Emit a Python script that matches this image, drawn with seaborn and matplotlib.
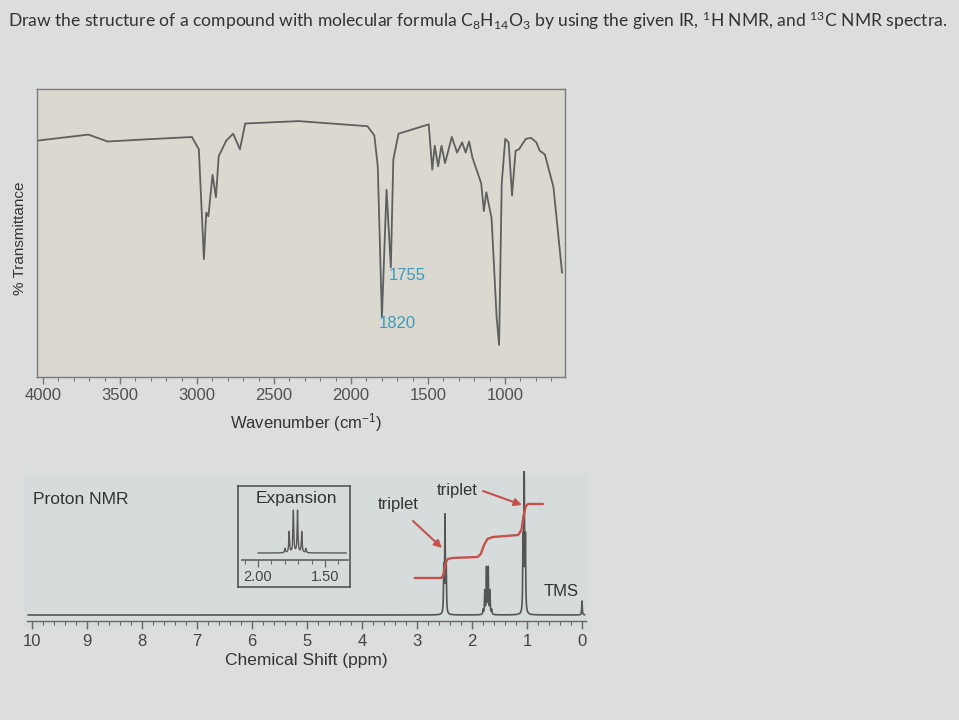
import numpy as np
import matplotlib
matplotlib.use("Agg")
import matplotlib.pyplot as plt
import seaborn as sns
from matplotlib.ticker import FixedLocator
from matplotlib.patches import Rectangle

# ---------------- data ----------------
title_text = ("Draw the structure of a compound with molecular formula "
              r"C$\mathregular{_8}$H$\mathregular{_{14}}$O$\mathregular{_3}$ by using the given IR, "
              r"$\mathregular{^1}$H NMR, and $\mathregular{^{13}}$C NMR spectra.")

# IR spectrum (wavenumber cm-1, % transmittance)
ir_wavenumber = [4035, 3705, 3581, 3300, 3033, 2988, 2955, 2940, 2926, 2899, 2877, 2859,
                 2810, 2765, 2721, 2687, 2340, 1893, 1848, 1826, 1799, 1769, 1741, 1725,
                 1691, 1495, 1472, 1456, 1434, 1412, 1389, 1345, 1311, 1278, 1255, 1233,
                 1211, 1154, 1137, 1121, 1087, 1054, 1038, 1021, 998, 976, 954, 931, 909,
                 864, 830, 796, 774, 741, 685, 629]
ir_transmittance = [82.3, 84.3, 82.0, 82.8, 83.5, 79.4, 42.8, 58.3, 57.1, 70.9, 63.4, 77.1,
                    82.3, 84.6, 79.4, 88.0, 88.8, 87.1, 84.0, 73.7, 23.4, 65.9, 40.0, 76.0,
                    84.6, 87.7, 72.6, 80.6, 73.7, 80.6, 74.8, 83.5, 78.3, 81.7, 78.3, 82.0,
                    76.6, 68.0, 58.8, 65.1, 56.5, 23.4, 14.2, 68.0, 82.9, 81.7, 64.0, 78.9, 79.4,
                    82.9, 83.2, 81.7, 78.9, 77.7, 66.8, 38.2]
ir_tick_values = [4000, 3500, 3000, 2500, 2000, 1500, 1000]
ir_peak_labels = ["1755", "1820"]

# 1H NMR lines (ppm, height in drawing units)
triplet_a_ppm = [2.468, 2.490, 2.512]
triplet_a_height = [45, 95, 45]
sextet_center = 1.72
sextet_offsets = [-0.078, -0.047, -0.0155, 0.0155, 0.047, 0.078]
sextet_rel = [1, 5, 10, 10, 5, 1]
sextet_height_main = 46
sextet_height_inset = 42
triplet_c_ppm = [1.028, 1.050, 1.072]
triplet_c_height = [72, 138, 72]
tms_ppm = [0.0]
tms_height = [14]
nmr_tick_values = list(range(0, 11))
inset_tick_values = [2.00, 1.50]

# integration curve (ppm, level)
integ_ppm = [3.04, 2.56, 2.52, 2.48, 2.44, 2.36, 1.90, 1.84, 1.78, 1.72, 1.62, 1.16,
             1.10, 1.06, 1.02, 0.98, 0.71]
integ_level = [37, 37, 40, 52, 56, 57, 58, 61, 70, 76, 78, 80, 85, 100, 109, 111, 111]

# ---------------- style ----------------
sns.set_theme(style="white")
plt.rcParams["font.family"] = ["Liberation Sans", "DejaVu Sans"]
plt.rcParams["mathtext.default"] = "regular"

W, H = 959, 720
BG = "#dcdedd"
TXT = "#333333"
fig = plt.figure(figsize=(W / 100, H / 100), dpi=100)
fig.patch.set_facecolor(BG)


def box(l, t, r, b):
    return [l / W, 1 - b / H, (r - l) / W, (b - t) / H]


def fp(x, y):
    return (x / W, 1 - y / H)


# title (fit to its width in the picture)
t = fig.text(*fp(8, 21), title_text, fontsize=12, family=["Lato", "DejaVu Sans"],
             va="center", ha="left", color="#333333")
fig.canvas.draw()
bb = t.get_window_extent()
t.set_fontsize(12 * 937 / bb.width)

# ---------------- IR ----------------
ax_ir = fig.add_axes(box(37, 89, 565, 377))
ax_ir.set_facecolor("#dbd8d0")
sns.lineplot(x=ir_wavenumber, y=ir_transmittance, ax=ax_ir, estimator=None, sort=False,
             color="#5f5f5f", lw=1.3)
ax_ir.set_xlim(4039, 610)
ax_ir.set_ylim(3.5, 99.5)
ax_ir.set_yticks([])
ax_ir.set_xticks(ir_tick_values)
ax_ir.set_xticklabels([str(v) for v in ir_tick_values])
ax_ir.xaxis.set_minor_locator(FixedLocator(list(range(700, 4001, 100))))
ax_ir.tick_params(axis="x", which="major", direction="out", length=5, width=1,
                  color="#777777", labelsize=12, labelcolor="#505050", pad=3, bottom=True)
ax_ir.tick_params(axis="x", which="minor", direction="out", length=3, width=0.8,
                  color="#777777", bottom=True)
for s in ax_ir.spines.values():
    s.set_color("#7a7a7a")
    s.set_linewidth(1.0)
ax_ir.set_xlabel("")
ax_ir.set_ylabel("")

fig.text(*fp(306, 423), "Wavenumber (cm$^{-1}$)", fontsize=12, ha="center", va="center",
         color=TXT)
fig.text(*fp(20, 238), "% Transmittance", fontsize=11, ha="center", va="center",
         rotation=90, color=TXT)
fig.text(*fp(407, 276), ir_peak_labels[0], fontsize=12, ha="center", va="center",
         color="#3b9cc0")
fig.text(*fp(397, 324), ir_peak_labels[1], fontsize=12, ha="center", va="center",
         color="#3b9cc0")

# ---------------- NMR ----------------
fig.add_artist(Rectangle(fp(25, 627), (587 - 25) / W, (627 - 474) / H,
                         transform=fig.transFigure, color="#d6dcdc", zorder=0))


def spectrum(grid, centers, heights, g):
    y = np.zeros_like(grid)
    for c, h in zip(centers, heights):
        y += h * g ** 2 / ((grid - c) ** 2 + g ** 2)
    return y


sext_ppm = [sextet_center + o for o in sextet_offsets]
sext_main_h = [sextet_height_main * r / max(sextet_rel) for r in sextet_rel]
all_ppm = triplet_a_ppm + sext_ppm + triplet_c_ppm + tms_ppm
all_h = triplet_a_height + sext_main_h + triplet_c_height + tms_height

ax_n = fig.add_axes(box(27, 471, 586, 621))
ax_n.set_facecolor("none")
grid = np.linspace(-0.05, 10.07, 20001)
spec = spectrum(grid, all_ppm, all_h, 0.006)
sns.lineplot(x=grid, y=spec, ax=ax_n, estimator=None, sort=False, color="#555555", lw=1.2)
sns.lineplot(x=integ_ppm, y=integ_level, ax=ax_n, estimator=None, sort=False,
             color="#c4514b", lw=1.7)
ax_n.set_xlim(10.09, -0.073)
ax_n.set_ylim(-6, 144)
ax_n.set_yticks([])
ax_n.set_xticks(nmr_tick_values)
ax_n.set_xticklabels([str(v) for v in nmr_tick_values])
ax_n.xaxis.set_minor_locator(FixedLocator(list(np.round(np.arange(0, 10.01, 0.2), 2))))
ax_n.tick_params(axis="x", which="major", direction="out", length=6, width=1,
                 color="#666666", labelsize=12, labelcolor="#444444", pad=3, bottom=True)
ax_n.tick_params(axis="x", which="minor", direction="out", length=3, width=0.8,
                 color="#666666", bottom=True)
for k in ["top", "left", "right"]:
    ax_n.spines[k].set_visible(False)
ax_n.spines["bottom"].set_color("#666666")
ax_n.spines["bottom"].set_linewidth(1.0)
ax_n.set_xlabel("")
ax_n.set_ylabel("")

fig.text(*fp(306, 661), "Chemical Shift (ppm)", fontsize=12.5, ha="center", va="center",
         color=TXT)
fig.text(*fp(81, 500), "Proton NMR", fontsize=12.5, ha="center", va="center", color=TXT)
fig.text(*fp(561, 591), "TMS", fontsize=12, ha="center", va="center", color=TXT)
fig.text(*fp(398, 505), "triplet", fontsize=12, ha="center", va="center", color=TXT)
fig.text(*fp(457, 491), "triplet", fontsize=12, ha="center", va="center", color=TXT)

arrow_kw = dict(arrowstyle="-|>", color="#c4514b", lw=1.5, mutation_scale=11,
                shrinkA=0, shrinkB=0)
ax_n.annotate("", xy=fp(442, 548), xytext=fp(413, 521), xycoords="figure fraction",
              textcoords="figure fraction", arrowprops=arrow_kw)
ax_n.annotate("", xy=fp(522, 505), xytext=fp(483, 491), xycoords="figure fraction",
              textcoords="figure fraction", arrowprops=arrow_kw)

# ---------------- Expansion inset ----------------
ax_box = fig.add_axes(box(238, 486, 350, 587))
ax_box.set_facecolor("#d6dcdc")
ax_box.set_xticks([])
ax_box.set_yticks([])
for s in ax_box.spines.values():
    s.set_color("#4a4a4a")
    s.set_linewidth(1.1)
fig.text(*fp(296, 499), "Expansion", fontsize=12.5, ha="center", va="center", color="#333333")

ax_in = fig.add_axes(box(242, 505, 348, 560))
ax_in.set_facecolor("none")
sext_in_h = [sextet_height_inset * r / max(sextet_rel) for r in sextet_rel]
grid_in = np.linspace(1.34, 2.0, 4001)
spec_in = spectrum(grid_in, sext_ppm, sext_in_h, 0.0035)
sns.lineplot(x=grid_in, y=spec_in, ax=ax_in, estimator=None, sort=False, color="#5a5a5a",
             lw=1.0)
ax_in.set_xlim(2.119, 1.328)
ax_in.set_ylim(-7, 48)
ax_in.set_yticks([])
ax_in.set_xticks(inset_tick_values)
ax_in.set_xticklabels([f"{v:.2f}" for v in inset_tick_values])
ax_in.xaxis.set_minor_locator(FixedLocator([2.1, 1.9, 1.8, 1.7, 1.6, 1.4]))
ax_in.tick_params(axis="x", which="major", direction="out", length=5, width=0.9,
                  color="#666666", labelsize=10.5, labelcolor="#444444", pad=2, bottom=True)
ax_in.tick_params(axis="x", which="minor", direction="out", length=3, width=0.8,
                  color="#666666", bottom=True)
for k in ["top", "left", "right"]:
    ax_in.spines[k].set_visible(False)
ax_in.spines["bottom"].set_color("#666666")
ax_in.set_xlabel("")
ax_in.set_ylabel("")

fig.savefig("out.png", dpi=100, facecolor=fig.get_facecolor())
